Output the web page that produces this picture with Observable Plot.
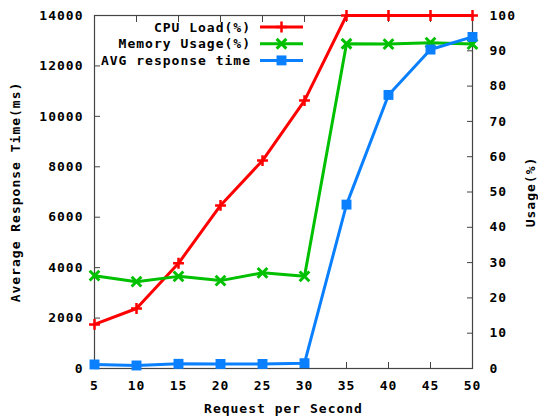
<!DOCTYPE html>
<html><head><meta charset="utf-8">
<script src="https://cdn.jsdelivr.net/npm/d3@7"></script>
<script src="https://cdn.jsdelivr.net/npm/@observablehq/plot@0.6"></script>
<style>
body{margin:0;background:#fff;}
svg text{font-family:"DejaVu Sans Mono",monospace;font-weight:bold;letter-spacing:1px;}
</style></head><body><div id="chart"></div>
<script>
const requests = [5,10,15,20,25,30,35,40,45,50];
const cpuLoad = [12.5,17,29.8,46.2,58.9,75.9,100,100,100,100];
const memUsage = [26.3,24.6,26.1,24.9,27.1,26.1,92,91.9,92.3,91.9];
const avgResponse = [160,120,185,180,180,210,6500,10850,12650,13150];
const leftTicks = [0,2000,4000,6000,8000,10000,12000,14000];
const rightTicks = [0,10,20,30,40,50,60,70,80,90,100];
const xTicks = [5,10,15,20,25,30,35,40,45,50];
const seriesNames = ["CPU Load(%)","Memory Usage(%)","AVG response time"];
const colors = ["#ff0000","#00c000","#0a80ff"];

const K = 14000/100; // usage % mapped onto the left scale
const cpu = requests.map((x,i)=>({x, y: cpuLoad[i]*K}));
const mem = requests.map((x,i)=>({x, y: memUsage[i]*K}));
const avg = requests.map((x,i)=>({x, y: avgResponse[i]}));

const fs = 13;
const chart = Plot.plot({
  width: 538, height: 417,
  marginLeft: 94, marginRight: 66, marginTop: 15, marginBottom: 49,
  style: {fontFamily: "DejaVu Sans Mono, monospace", fontSize: fs+"px", fontWeight: "bold", color: "#000", background: "#fff"},
  x: {domain: [5,50]},
  y: {domain: [0,14000]},
  marks: [
    Plot.axisX({ticks: xTicks, tickSize: -6, tickPadding: 18, label: null, fontSize: fs, stroke: "#444"}),
    Plot.axisX({anchor: "top", ticks: xTicks, tickSize: -6, tickFormat: () => "", label: null, stroke: "#444"}),
    Plot.axisY({ticks: leftTicks, tickSize: -6, tickPadding: 17, label: null, tickFormat: d => String(d), fontSize: fs, stroke: "#444"}),
    Plot.axisY({anchor: "right", ticks: rightTicks.map(v=>v*K), tickSize: -6, tickPadding: 23, label: null, tickFormat: d => String(Math.round(d/K)), fontSize: fs, stroke: "#444"}),
    Plot.frame({stroke: "#444", strokeWidth: 1.2}),
    Plot.line(cpu, {x:"x", y:"y", stroke: colors[0], strokeWidth: 3}),
    Plot.dot(cpu, {x:"x", y:"y", symbol: "plus", r: 3.6, stroke: colors[0], strokeWidth: 2.5}),
    Plot.line(mem, {x:"x", y:"y", stroke: colors[1], strokeWidth: 3}),
    Plot.dot(mem, {x:"x", y:"y", symbol: "times", r: 4.5, stroke: colors[1], strokeWidth: 3}),
    Plot.line(avg, {x:"x", y:"y", stroke: colors[2], strokeWidth: 3}),
    Plot.dot(avg, {x:"x", y:"y", symbol: "square", r: 5.6, fill: colors[2]}),
    Plot.text(["Average Response Time(ms)"], {text: d=>d, frameAnchor: "left", textAnchor: "middle", dx: -79, rotate: -90, fontSize: fs, fontWeight: "bold"}),
    Plot.text(["Usage(%)"], {text: d=>d, frameAnchor: "right", textAnchor: "middle", dx: 58, rotate: -90, fontSize: fs, fontWeight: "bold"}),
    Plot.text(["Request per Second"], {text: d=>d, frameAnchor: "bottom", textAnchor: "middle", dy: 44, fontSize: fs, fontWeight: "bold"})
  ]
});
document.getElementById("chart").appendChild(chart);

// legend inside the plot frame
const svg = d3.select(chart);
const lg = svg.append("g").attr("transform", "translate(251,27)");
seriesNames.forEach((name,i)=>{
  const g = lg.append("g").attr("transform", `translate(0,${i*16.7})`);
  g.append("text").attr("text-anchor","end").attr("dy","0.35em").attr("font-size",fs).attr("font-weight","bold").text(name);
  g.append("line").attr("x1",9).attr("x2",52).attr("stroke",colors[i]).attr("stroke-width",3);
  const sym = [d3.symbolPlus, d3.symbolTimes, d3.symbolSquare][i];
  const size = [Math.PI*3.6*3.6, Math.PI*4.5*4.5, Math.PI*5.6*5.6][i];
  const p = g.append("path").attr("transform","translate(30.5,0)").attr("d", d3.symbol(sym, size)());
  if (i===2) p.attr("fill", colors[i]); else p.attr("fill","none").attr("stroke",colors[i]).attr("stroke-width", i===0?2.5:3);
});
svg.selectAll("text").style("font-family","DejaVu Sans Mono, monospace");
</script></body></html>
